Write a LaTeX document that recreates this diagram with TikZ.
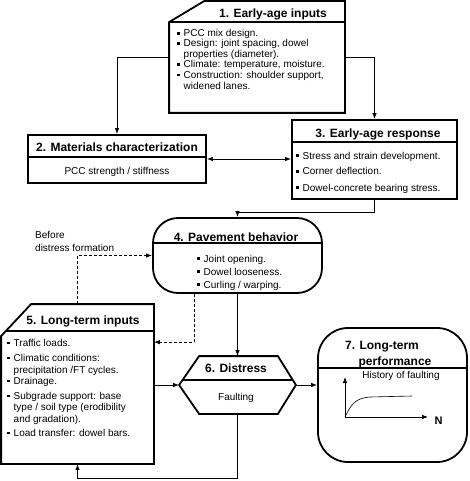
\documentclass[tikz,border=0pt]{standalone}
\usepackage{fontspec}
\setmainfont{Liberation Sans}
\usetikzlibrary{shapes, calc, arrows.meta, positioning}

\newcommand{\bul}{\makebox[6.5pt][l]{\rule[0.22em]{2.4pt}{2.4pt}}}
\newcommand{\ind}{\hspace*{6.5pt}}

\begin{document}
\begin{tikzpicture}[x=1pt, y=-1pt, >={Latex[length=6pt, width=4.5pt]},
    font=\fontsize{10}{12}\selectfont,
    frame/.style={draw, line width=1.8pt},
    hold/.style={inner sep=0pt, outer sep=0.9pt},
    head/.style={font=\fontsize{12}{14}\selectfont\bfseries, anchor=base, inner sep=0pt},
    item/.style={anchor=base west, inner sep=0pt},
    txt/.style={anchor=base, inner sep=0pt},
    link/.style={->, line width=0.8pt},
    dlink/.style={link, dash pattern=on 3pt off 2pt}]
    \useasboundingbox (0,0) rectangle (469,481);

    % 1. early-age inputs
    \node[hold, minimum width=174pt, minimum height=110pt] (inputs) at (257,57) {};
    \draw[frame] ($(inputs.north west)+(35,0)$) -- (inputs.north east) -- (inputs.south east)
      -- (inputs.south west) -- ($(inputs.north west)+(0,21)$) -- cycle;
    \draw[frame] ($(inputs.north west)+(0,21)$) -- ($(inputs.north east)+(0,21)$);
    \node[head] (inputs-t) at (273,17.5) {1. Early-age inputs};
    \foreach \y/\t in {37/{\bul PCC mix design.}, 47/{\bul Design: joint spacing, dowel},
        57.5/{\ind properties (diameter).}, 68/{\bul Climate: temperature, moisture.},
        78.5/{\bul Construction: shoulder support,}, 89.5/{\ind widened lanes.}} {
        \node[item] at (177,\y) {\t};
    };

    % 2. materials
    \node[frame, minimum width=178pt, minimum height=48pt] (mater) at (117,159) {};
    \draw[frame] ($(mater.north west)+(0.9,23)$) -- ($(mater.north east)+(-0.9,23)$);
    \node[head] (mater-t) at (117,151.5) {2. Materials characterization};
    \node[txt] (mater-b) at (117,174.5) {PCC strength / stiffness};

    % 3. early-age response
    \node[frame, minimum width=165pt, minimum height=79pt] (resp) at (374.5,159.5) {};
    \draw[frame] ($(resp.north west)+(0.9,23)$) -- ($(resp.north east)+(-0.9,23)$);
    \node[head] (resp-t) at (378,137.5) {3. Early-age response};
    \foreach \y/\t in {159/{\bul Stress and strain development.}, 175/{\bul Corner deflection.},
        191/{\bul Dowel-concrete bearing stress.}} {
        \node[item] at (296,\y) {\t};
    };

    % 4. pavement behavior
    \node[frame, rounded corners=25pt, minimum width=169pt, minimum height=75pt] (behav) at (237.5,255.5) {};
    \draw[frame] ($(behav.north west)+(0.9,26)$) -- ($(behav.north east)+(-0.9,26)$);
    \node[head] (behav-t) at (236,241.5) {4. Pavement behavior};
    \foreach \y/\t in {262/{\bul Joint opening.}, 275/{\bul Dowel looseness.}, 288/{\bul Curling / warping.}} {
        \node[item] at (197,\y) {\t};
    };
    \node[item] (before1) at (35,238.5) {Before};
    \node[item] (before2) at (35,251.5) {distress formation};

    % 5. long-term inputs
    \node[hold, minimum width=151pt, minimum height=158pt] (longt) at (77.5,384) {};
    \draw[frame] ($(longt.north west)+(30,0)$) -- (longt.north east) -- (longt.south east)
      -- (longt.south west) -- ($(longt.north west)+(0,32)$) -- cycle;
    \draw[frame] ($(longt.north west)+(4.7,27)$) -- ($(longt.north east)+(0,27)$);
    \node[head] (longt-t) at (83,324.5) {5. Long-term inputs};
    \foreach \y/\t in {346.5/{\bul Traffic loads.}, 361.5/{\bul Climatic conditions:},
        373.5/{\ind precipitation /FT cycles.}, 384.5/{\bul Drainage.},
        399.5/{\bul Subgrade support: base}, 410.5/{\ind type / soil type (erodibility},
        422.5/{\ind and gradation).}, 436.5/{\bul Load transfer: dowel bars.}} {
        \node[item] at (7,\y) {\t};
    };

    % 6. distress
    \node[hold, minimum width=115pt, minimum height=56pt] (dist) at (237.5,385) {};
    \draw[frame] (dist.west) -- ($(dist.north west)+(20,0)$) -- ($(dist.north east)+(-18,0)$)
      -- (dist.east) -- ($(dist.south east)+(-18,0)$) -- ($(dist.south west)+(20,0)$) -- cycle;
    \draw[frame] ($(dist.west)+(3.6,-5)$) -- ($(dist.east)+(-3.2,-5)$);
    \node[head] (dist-t) at (236,372.5) {6. Distress};
    \node[txt] (dist-b) at (236,400.5) {Faulting};

    % 7. long-term performance
    \node[frame, rounded corners=30pt, minimum width=149pt, minimum height=134pt] (perf) at (392.5,395) {};
    \draw[frame] ($(perf.west)+(0.9,-27)$) -- ($(perf.east)+(-0.9,-27)$);
    \node[head] (perf-t1) at (382,349.5) {7. Long-term};
    \node[head] (perf-t2) at (395,365.5) {performance};
    \node[txt] (perf-b) at (401,378.5) {History of faulting};
    \draw[->, line width=0.7pt] (345,417) -- (345,377);
    \draw[->, line width=0.7pt] (345,417) -- (428,417);
    \node[head, font=\fontsize{11}{13}\selectfont\bfseries] (perf-n) at (438.5,424) {N};
    \draw[line width=0.6pt] (345,417) .. controls (351,404) and (356,398) .. (370,397) -- (412,396);

    % connectors
    \draw[link] (inputs.west) -| (mater.north);
    \draw[link] (inputs.east) -| (resp.north);
    \draw[<->, line width=0.8pt] (mater.east) -- (mater.east -| resp.west);
    \draw[link] (resp.south) -- ++(0,12) -| (behav.north);
    \draw[dlink] (longt.north) |- (behav.west);
    \draw[dlink] ($(behav.south)+(-43.5,0)$) |- ($(longt.north east)+(0,38)$);
    \draw[link] (behav.south) -- (dist.north);
    \draw[link] (longt.east |- dist.west) -- (dist.west);
    \draw[link] (dist.east) -- (dist.east -| perf.west);
    \draw[link] (dist.south) -- ++(0,64) -| (longt.south);
\end{tikzpicture}
\end{document}
